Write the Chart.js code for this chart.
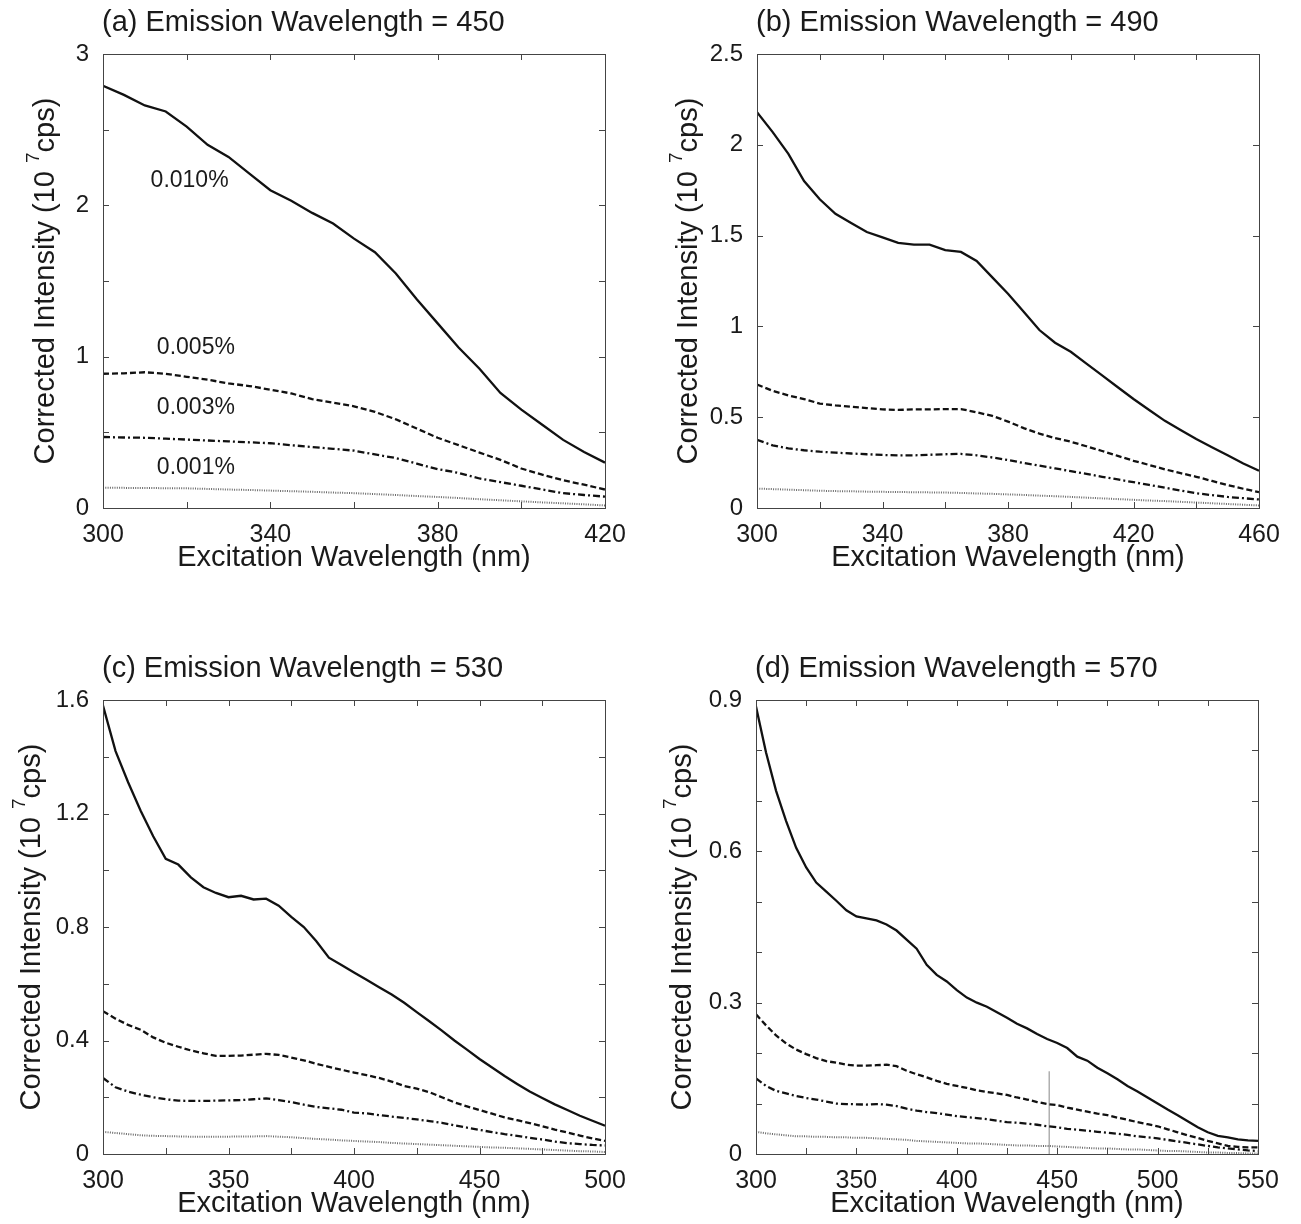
<!DOCTYPE html>
<html>
<head>
<meta charset="utf-8">
<script src="https://cdn.jsdelivr.net/npm/chart.js@4.4.1/dist/chart.umd.min.js"></script>
<style>
  html, body { margin: 0; padding: 0; background: #fff; }
  body { width: 1301px; height: 1224px; position: relative; overflow: hidden; }
  .panel { position: absolute; }
</style>
</head>
<body>
<div class="panel" style="left:0;top:0;width:650px;height:578px;"><canvas id="pa"></canvas></div>
<div class="panel" style="left:654px;top:0;width:647px;height:578px;"><canvas id="pb"></canvas></div>
<div class="panel" style="left:0;top:646px;width:650px;height:578px;"><canvas id="pc"></canvas></div>
<div class="panel" style="left:653px;top:646px;width:648px;height:578px;"><canvas id="pd"></canvas></div>
<script>
// ---- (a) emission 450 ----
const waveA = [300,305,310,315,320,325,330,335,340,345,350,355,360,365,370,375,380,385,390,395,400,405,410,415,420];
const a010 = [2.79,2.73,2.66,2.62,2.52,2.40,2.32,2.21,2.10,2.03,1.95,1.88,1.78,1.69,1.55,1.38,1.22,1.06,0.92,0.76,0.65,0.55,0.45,0.37,0.30];
const a005 = [0.887,0.89,0.897,0.887,0.867,0.848,0.823,0.806,0.782,0.757,0.72,0.696,0.672,0.635,0.586,0.525,0.464,0.415,0.366,0.318,0.261,0.22,0.183,0.154,0.122];
const a003 = [0.469,0.466,0.464,0.458,0.452,0.446,0.44,0.434,0.428,0.415,0.403,0.391,0.379,0.354,0.33,0.293,0.257,0.232,0.195,0.171,0.147,0.122,0.098,0.086,0.075];
const a001 = [0.134,0.133,0.132,0.131,0.13,0.126,0.122,0.119,0.115,0.111,0.107,0.102,0.098,0.092,0.086,0.079,0.073,0.066,0.058,0.051,0.044,0.037,0.031,0.024,0.017];
const xTicksA = [300,340,380,420];
const yTicksA = [0,1,2,3];
const noteTextA = ['0.010%','0.005%','0.003%','0.001%'];
const noteXA = [320.7,322.2,322.2,322.2];
const noteYA = [2.16,1.06,0.66,0.265];

// ---- (b) emission 490 ----
const waveB = [300,305,310,315,320,325,330,335,340,345,350,355,360,365,370,375,380,385,390,395,400,405,410,415,420,425,430,435,440,445,450,455,460];
const b010 = [2.18,2.07,1.95,1.80,1.70,1.62,1.57,1.52,1.49,1.46,1.45,1.45,1.42,1.41,1.36,1.27,1.18,1.08,0.98,0.91,0.86,0.795,0.73,0.665,0.60,0.54,0.48,0.43,0.38,0.335,0.29,0.245,0.205];
const b005 = [0.68,0.645,0.62,0.60,0.575,0.565,0.558,0.55,0.543,0.54,0.543,0.543,0.545,0.545,0.527,0.507,0.476,0.44,0.41,0.385,0.365,0.34,0.314,0.287,0.26,0.237,0.213,0.192,0.172,0.149,0.126,0.106,0.087];
const b003 = [0.375,0.345,0.328,0.318,0.31,0.305,0.30,0.296,0.292,0.29,0.29,0.293,0.296,0.298,0.29,0.278,0.264,0.248,0.233,0.218,0.203,0.188,0.172,0.157,0.142,0.127,0.112,0.096,0.081,0.071,0.061,0.054,0.047];
const b001 = [0.107,0.104,0.101,0.098,0.095,0.093,0.092,0.09,0.089,0.088,0.087,0.086,0.085,0.083,0.08,0.078,0.075,0.072,0.068,0.065,0.061,0.057,0.053,0.049,0.045,0.041,0.038,0.034,0.03,0.026,0.022,0.018,0.014];
const xTicksB = [300,340,380,420,460];
const yTicksB = [0,0.5,1,1.5,2,2.5];

// ---- (c) emission 530 ----
const waveC = [300,305,310,315,320,325,330,335,340,345,350,355,360,365,370,375,380,385,390,395,400,405,410,415,420,425,430,435,440,445,450,455,460,465,470,475,480,485,490,495,500];
const c010 = [1.58,1.42,1.31,1.21,1.12,1.04,1.02,0.975,0.94,0.92,0.905,0.91,0.897,0.90,0.875,0.836,0.80,0.75,0.692,0.666,0.64,0.614,0.588,0.562,0.533,0.50,0.468,0.435,0.40,0.368,0.335,0.305,0.275,0.247,0.22,0.197,0.175,0.155,0.135,0.117,0.10];
const c005 = [0.503,0.477,0.455,0.438,0.411,0.392,0.378,0.365,0.355,0.346,0.346,0.347,0.35,0.353,0.349,0.34,0.33,0.318,0.307,0.297,0.287,0.278,0.268,0.255,0.24,0.23,0.218,0.20,0.182,0.168,0.155,0.142,0.129,0.119,0.109,0.098,0.086,0.076,0.065,0.055,0.046];
const c003 = [0.268,0.235,0.22,0.209,0.20,0.193,0.188,0.187,0.187,0.188,0.189,0.19,0.193,0.196,0.19,0.183,0.174,0.166,0.161,0.156,0.146,0.143,0.137,0.132,0.127,0.122,0.116,0.11,0.101,0.093,0.085,0.077,0.07,0.064,0.057,0.051,0.044,0.038,0.035,0.032,0.03];
const c001 = [0.078,0.074,0.07,0.066,0.064,0.063,0.062,0.061,0.061,0.061,0.061,0.062,0.062,0.063,0.061,0.059,0.056,0.053,0.051,0.048,0.046,0.044,0.042,0.039,0.037,0.035,0.033,0.031,0.029,0.027,0.025,0.023,0.022,0.02,0.018,0.016,0.014,0.012,0.01,0.009,0.007];
const xTicksC = [300,350,400,450,500];
const yTicksC = [0,0.4,0.8,1.2,1.6];

// ---- (d) emission 570 ----
const waveD = [300,305,310,315,320,325,330,335,340,345,350,355,360,365,370,375,380,385,390,395,400,405,410,415,420,425,430,435,440,445,450,455,460,465,470,475,480,485,490,495,500,505,510,515,520,525,530,535,540,545,550];
const d010 = [0.887,0.796,0.72,0.66,0.607,0.568,0.538,0.52,0.502,0.483,0.471,0.467,0.463,0.455,0.443,0.425,0.407,0.375,0.355,0.342,0.325,0.31,0.30,0.292,0.281,0.27,0.258,0.249,0.238,0.228,0.22,0.21,0.193,0.185,0.171,0.16,0.148,0.135,0.124,0.112,0.10,0.088,0.077,0.065,0.053,0.043,0.036,0.033,0.029,0.027,0.026];
const d005 = [0.277,0.255,0.235,0.219,0.207,0.198,0.19,0.184,0.181,0.177,0.175,0.175,0.176,0.177,0.174,0.165,0.158,0.152,0.145,0.139,0.135,0.131,0.126,0.123,0.12,0.117,0.112,0.108,0.103,0.099,0.097,0.092,0.088,0.084,0.08,0.077,0.072,0.068,0.063,0.059,0.055,0.049,0.043,0.037,0.032,0.026,0.021,0.016,0.014,0.013,0.013];
const d003 = [0.15,0.135,0.125,0.12,0.115,0.111,0.108,0.104,0.10,0.099,0.0985,0.098,0.099,0.098,0.095,0.09,0.086,0.083,0.081,0.078,0.075,0.073,0.071,0.069,0.066,0.063,0.062,0.06,0.058,0.055,0.053,0.05,0.048,0.046,0.044,0.042,0.04,0.038,0.035,0.033,0.031,0.028,0.025,0.022,0.019,0.016,0.013,0.011,0.009,0.007,0.006];
const d001 = [0.044,0.041,0.039,0.037,0.035,0.035,0.034,0.034,0.033,0.033,0.032,0.032,0.031,0.03,0.029,0.028,0.026,0.025,0.024,0.023,0.022,0.021,0.021,0.02,0.019,0.018,0.017,0.017,0.016,0.016,0.015,0.014,0.013,0.012,0.011,0.011,0.01,0.009,0.009,0.008,0.007,0.006,0.006,0.005,0.004,0.003,0.003,0.002,0.002,0.001,0.001];
const xTicksD = [300,350,400,450,500,550];
const yTicksD = [0,0.3,0.6,0.9];
// stray vertical mark in panel (d)
const strayX = [446,446];
const strayY = [0,0.164];

const FONT = '"Liberation Sans", Arial, Helvetica, sans-serif';
const INK = '#1a1a1a';

// solid / dashed / dash-dot / dotted, as in the original
const lineStyles = [
  { borderColor: '#111', borderWidth: 2.3, borderDash: [] },
  { borderColor: '#111', borderWidth: 2.3, borderDash: [6, 3] },
  { borderColor: '#111', borderWidth: 2.3, borderDash: [7, 3, 2, 3] },
  { borderColor: '#6a6a6a', borderWidth: 2, borderDash: [1, 1.3] }
];

function isMajor(v, list) {
  return list.some(m => Math.abs(m - v) < 1e-6);
}

// MATLAB-like box: inward ticks on all four sides, titles, y label with superscript
const frame = {
  id: 'frame',
  afterDraw(chart, args, o) {
    const { ctx, chartArea: ca, scales: { x, y } } = chart;
    ctx.save();
    ctx.strokeStyle = '#444';
    ctx.lineWidth = 1;
    ctx.beginPath();
    x.ticks.forEach(t => {
      const px = Math.round(x.getPixelForValue(t.value)) + 0.5;
      ctx.moveTo(px, ca.bottom); ctx.lineTo(px, ca.bottom - 6);
      ctx.moveTo(px, ca.top); ctx.lineTo(px, ca.top + 6);
    });
    y.ticks.forEach(t => {
      const py = Math.round(y.getPixelForValue(t.value)) + 0.5;
      ctx.moveTo(ca.left, py); ctx.lineTo(ca.left + 6, py);
      ctx.moveTo(ca.right, py); ctx.lineTo(ca.right - 6, py);
    });
    ctx.stroke();
    ctx.strokeRect(Math.round(ca.left) + 0.5, Math.round(ca.top) + 0.5,
                   Math.round(ca.right - ca.left), Math.round(ca.bottom - ca.top));

    ctx.fillStyle = INK;
    // panel title
    ctx.font = '29px ' + FONT;
    ctx.textAlign = 'left';
    ctx.textBaseline = 'middle';
    ctx.fillText(o.title, ca.left - 1, ca.top - 31);

    // x title
    ctx.textAlign = 'center';
    ctx.fillText('Excitation Wavelength (nm)', (ca.left + ca.right) / 2, ca.bottom + 50);

    // y title, rotated, with raised 7
    const parts = ['Corrected Intensity (10 ', '7', 'cps)'];
    const big = '29px ' + FONT, small = '19px ' + FONT;
    ctx.font = big; const w0 = ctx.measureText(parts[0]).width, w2 = ctx.measureText(parts[2]).width;
    ctx.font = small; const w1 = ctx.measureText(parts[1]).width;
    const total = w0 + w1 + w2;
    ctx.translate(ca.left - o.yTitleOff, (ca.top + ca.bottom) / 2);
    ctx.rotate(-Math.PI / 2);
    ctx.textAlign = 'left';
    let cx = -total / 2;
    ctx.font = big; ctx.fillText(parts[0], cx, 0); cx += w0;
    ctx.font = small; ctx.fillText(parts[1], cx, -12); cx += w1;
    ctx.font = big; ctx.fillText(parts[2], cx, 0);
    ctx.restore();

    // curve labels
    if (o.notes) {
      ctx.save();
      ctx.fillStyle = INK;
      ctx.font = '23px ' + FONT;
      ctx.textAlign = 'center';
      ctx.textBaseline = 'middle';
      o.notes.text.forEach((s, i) => {
        ctx.fillText(s, x.getPixelForValue(o.notes.x[i]), y.getPixelForValue(o.notes.y[i]));
      });
      ctx.restore();
    }
  }
};

function makeChart(id, p) {
  const datasets = p.series.map((vals, i) => Object.assign({
    data: p.wave.map((w, k) => ({ x: w, y: vals[k] })),
    pointRadius: 0,
    tension: 0,
    fill: false
  }, lineStyles[i]));
  if (p.extra) datasets.push(p.extra);

  return new Chart(document.getElementById(id), {
    type: 'line',
    data: { datasets },
    options: {
      responsive: true,
      maintainAspectRatio: false,
      animation: false,
      events: [],
      layout: { padding: { left: 0, top: 54, right: p.padRight, bottom: 0 } },
      plugins: {
        legend: { display: false },
        tooltip: { enabled: false },
        frame: { title: p.title, yTitleOff: p.yTitleOff, notes: p.notes }
      },
      scales: {
        x: {
          type: 'linear', min: p.xMin, max: p.xMax,
          grid: { display: false }, border: { display: false },
          afterFit: s => { s.height = 70; },
          ticks: {
            stepSize: p.xStep, autoSkip: false, maxRotation: 0, padding: 4,
            color: INK, font: { family: FONT, size: 25 },
            callback: v => isMajor(v, p.xMajor) ? String(v) : ''
          }
        },
        y: {
          type: 'linear', min: p.yMin, max: p.yMax,
          grid: { display: false }, border: { display: false },
          afterFit: s => { s.width = 103; },
          ticks: {
            stepSize: p.yStep, autoSkip: false, padding: 6,
            color: INK, font: { family: FONT, size: 24 },
            callback: v => isMajor(v, p.yMajor) ? String(+v.toFixed(2)) : ''
          }
        }
      }
    },
    plugins: [frame]
  });
}

Chart.defaults.font.family = FONT;

makeChart('pa', {
  title: '(a) Emission Wavelength = 450', wave: waveA, series: [a010, a005, a003, a001],
  xMin: 300, xMax: 420, xStep: 20, xMajor: xTicksA,
  yMin: 0, yMax: 3, yStep: 0.5, yMajor: yTicksA,
  yTitleOff: 57, padRight: 45,
  notes: { text: noteTextA, x: noteXA, y: noteYA }
});
makeChart('pb', {
  title: '(b) Emission Wavelength = 490', wave: waveB, series: [b010, b005, b003, b001],
  xMin: 300, xMax: 460, xStep: 20, xMajor: xTicksB,
  yMin: 0, yMax: 2.5, yStep: 0.5, yMajor: yTicksB,
  yTitleOff: 68, padRight: 42
});
makeChart('pc', {
  title: '(c) Emission Wavelength = 530', wave: waveC, series: [c010, c005, c003, c001],
  xMin: 300, xMax: 500, xStep: 25, xMajor: xTicksC,
  yMin: 0, yMax: 1.6, yStep: 0.2, yMajor: yTicksC,
  yTitleOff: 71, padRight: 45
});
makeChart('pd', {
  title: '(d) Emission Wavelength = 570', wave: waveD, series: [d010, d005, d003, d001],
  xMin: 300, xMax: 550, xStep: 25, xMajor: xTicksD,
  yMin: 0, yMax: 0.9, yStep: 0.1, yMajor: yTicksD,
  yTitleOff: 73, padRight: 43,
  extra: {
    data: strayX.map((v, i) => ({ x: v, y: strayY[i] })),
    borderColor: '#888', borderWidth: 1, pointRadius: 0, fill: false
  }
});
</script>
</body>
</html>
